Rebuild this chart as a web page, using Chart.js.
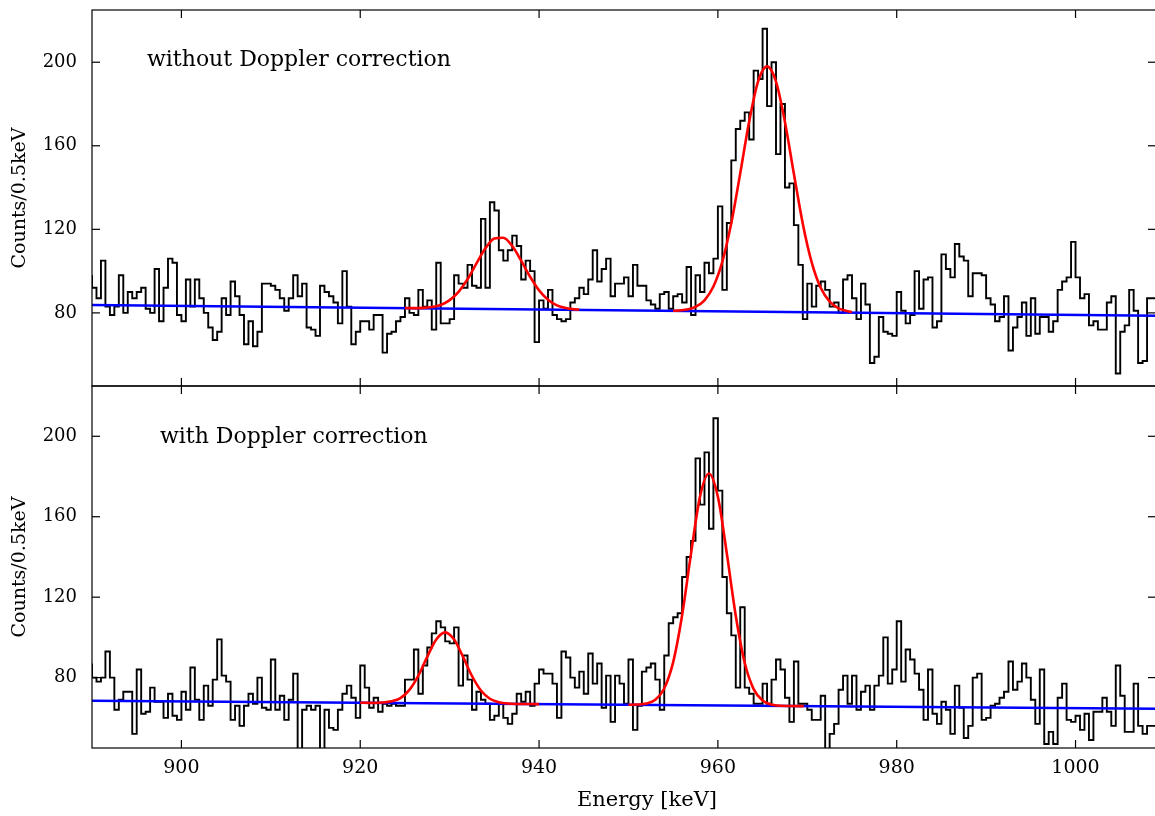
<!DOCTYPE html>
<html><head><meta charset="utf-8">
<script src="https://cdn.jsdelivr.net/npm/chart.js@4.4.0/dist/chart.umd.min.js"></script>
<style>
html,body{margin:0;padding:0;background:#fff;}
#wrap{position:relative;width:1155px;height:816px;overflow:hidden;}
canvas{position:absolute;left:0;}
</style></head><body>
<div id="wrap">
<canvas id="cTop" width="1160" height="397" style="top:0"></canvas>
<canvas id="cBot" width="1160" height="440" style="top:376px"></canvas>
</div>
<script>
/* ---- data ---- */
const BIN0 = 890, BIN = 0.5;           // keV, histogram bin start / width
const xTicks = [900, 920, 940, 960, 980, 1000];
const yTicks = [80, 120, 160, 200];

// without Doppler correction, counts per 0.5 keV
const countsRaw = [
  98,92,87,105,83,79,83,98,80,90,87,90,92,82,80,101,76,92,106,104,79,76,96,83,96,87,80,73,67,71,87,79,95,88,79,65,76,64,71,94,
  94,93,91,87,81,87,98,88,94,73,72,69,93,90,88,85,75,100,83,65,71,76,76,72,79,79,61,70,71,76,78,87,80,79,91,83,86,72,104,75,
  75,77,98,94,92,103,93,92,125,92,133,129,110,105,110,117,112,96,105,100,66,86,82,91,79,77,76,77,85,87,92,89,96,110,95,101,106,88,94,
  94,97,88,103,93,93,86,84,82,89,90,82,88,89,85,102,79,98,90,104,99,106,131,91,123,153,168,172,176,163,196,192,216,179,200,156,180,140,142,122,
  103,77,94,83,93,95,91,83,85,80,96,98,87,77,94,84,56,59,78,71,70,69,90,81,75,79,100,82,96,97,73,76,108,101,97,113,107,105,88,99,
  99,98,87,84,76,78,88,62,73,78,85,69,87,70,78,78,71,76,91,95,97,114,97,87,89,74,76,72,72,85,88,51,71,74,91,81,56,57,87
];
// with Doppler correction
const countsCorr = [
  87,80,78,80,93,80,64,69,73,73,52,84,62,63,75,68,68,60,72,61,59,73,64,85,69,59,76,66,79,99,81,78,59,66,56,66,72,67,80,65,
  64,89,64,71,59,69,82,40,64,66,64,66,40,64,55,54,64,72,76,70,60,86,75,65,70,63,67,66,67,66,66,79,79,94,72,86,95,102,108,
  105,98,97,105,76,91,79,64,73,69,67,59,61,67,60,57,62,72,68,73,66,77,84,82,82,77,60,93,90,80,75,83,72,92,77,87,65,81,58,81,
  77,67,89,54,66,83,85,87,79,64,91,107,110,112,130,140,148,189,166,192,154,209,173,130,112,101,75,115,75,72,67,67,77,67,79,89,84,70,58,88,
  67,67,64,59,59,71,40,52,57,74,81,67,81,64,73,76,64,76,81,100,77,84,108,78,94,89,82,74,59,84,62,57,68,64,52,76,65,50,56,80,
  82,59,60,66,67,70,73,88,74,78,87,80,69,57,84,47,53,47,70,77,59,58,61,54,62,49,63,63,70,63,56,86,71,53,53,77,56,52,56
];

// linear background (blue), endpoints
const bgRawE = [890, 1009], bgRawY = [83.8, 78.6];
const bgCorrE = [890, 1009], bgCorrY = [68.5, 64.5];

// fitted peaks (red), sampled off the curves
const fitRaw1E = [925,926,927,928,929,930,931,932,933,934,935,936,937,938,939,940,941,942,943,944,944.5];
const fitRaw1Y = [82.3,82.3,82.4,82.8,83.8,86.1,90.1,96.1,103.7,110.9,115.6,116.0,112.0,105.0,97.3,90.8,86.3,83.6,82.3,81.7,81.6];
const fitRaw2E = [955,955.5,956.5,957.5,958.5,959.5,960.5,961.5,962.5,963.5,964.5,965.5,966.5,967.5,968.5,969.5,970.5,971.5,972.5,973.5,974.5,975];
const fitRaw2Y = [81.0,81.1,81.6,82.9,86.0,92.6,104.5,123.0,146.8,171.6,190.8,198.0,190.7,171.4,146.6,122.6,104.1,92.0,85.4,82.2,80.8,80.4];
const fitCorr1E = [920,920.5,921.5,922.5,923.5,924.5,925.5,926.5,927.5,928.5,929.5,930.5,931.5,932.5,933.5,934.5,935.5,936.5,937.5,938.5,939.5,940];
const fitCorr1Y = [67.5,67.5,67.4,67.6,68.2,69.8,73.9,81.0,90.4,99.0,102.5,98.9,90.3,80.8,73.6,69.5,67.8,67.1,66.9,66.9,66.8,66.8];
const fitCorr2E = [950,951,952,953,954,955,956,957,958,959,960,961,962,963,964,965,966,967,968,969,969.6];
const fitCorr2Y = [66.5,66.6,67.1,69.0,74.6,87.7,111.0,141.8,170.0,181.5,169.9,141.7,110.8,87.4,74.3,68.6,66.6,66.0,65.9,65.8,65.8];

/* ---- helpers ---- */
const FONT = "'DejaVu Serif','Liberation Serif',serif";
Chart.defaults.font.family = FONT;
Chart.defaults.color = '#000';
Chart.defaults.animation = false;

const pts = (xs, ys) => xs.map((x, i) => ({x, y: ys[i]}));
function histPts(vals){
  const p = vals.map((v, i) => ({x: BIN0 + i*BIN, y: v}));
  p.push({x: BIN0 + vals.length*BIN, y: vals[vals.length-1]});
  return p;
}

// frame + inward ticks on all four sides, like the classic matplotlib style
const framePlugin = {
  id: 'frame',
  afterDatasetsDraw(chart){
    const {ctx, chartArea: a, scales: {x, y}} = chart;
    ctx.save();
    ctx.strokeStyle = '#000'; ctx.lineWidth = 1.2;
    const ln = (x1, y1, x2, y2) => { ctx.beginPath(); ctx.moveTo(x1, y1); ctx.lineTo(x2, y2); ctx.stroke(); };
    ctx.strokeRect(a.left, a.top, a.right - a.left, a.bottom - a.top);
    const L = 8;
    xTicks.forEach(v => { const p = x.getPixelForValue(v); ln(p, a.bottom, p, a.bottom - L); ln(p, a.top, p, a.top + L); });
    yTicks.forEach(v => { const p = y.getPixelForValue(v); ln(a.left, p, a.left + L, p); ln(a.right, p, a.right - L, p); });
    ctx.restore();
  }
};
// free text: panel note inside the axes, x label under the bottom panel
const notePlugin = {
  id: 'note',
  afterDraw(chart, args, o){
    const {ctx, chartArea: a} = chart;
    ctx.save();
    ctx.fillStyle = '#000'; ctx.textBaseline = 'middle';
    ctx.font = "22px " + FONT;
    ctx.fillText(o.text, a.left + o.dx, a.top + o.dy);
    if (o.xlabel) {
      ctx.font = "21px " + FONT; ctx.textAlign = 'center';
      ctx.fillText(o.xlabel, a.left + 555, a.bottom + 53);
    }
    ctx.restore();
  }
};

function panel(id, counts, bgE, bgY, fits, note, bottom){
  const sets = [];
  fits.forEach(f => sets.push({data: pts(f[0], f[1]), borderColor: '#ff0000', borderWidth: 2.6,
    pointRadius: 0, cubicInterpolationMode: 'monotone', order: 0}));
  sets.push({data: pts(bgE, bgY), borderColor: '#0000ff', borderWidth: 2.6, pointRadius: 0, order: 1});
  sets.push({data: histPts(counts), borderColor: '#000', borderWidth: 1.9, pointRadius: 0, stepped: 'after', order: 2});
  return new Chart(document.getElementById(id), {
    type: 'line',
    data: {datasets: sets},
    options: {
      responsive: false,
      layout: {padding: {top: 10, right: 4, bottom: bottom ? 0 : 11, left: 0}},
      plugins: {legend: {display: false}, tooltip: {enabled: false}, note: note},
      scales: {
        x: {type: 'linear', min: 890, max: 1009,
          afterBuildTicks: s => { s.ticks = xTicks.map(v => ({value: v})); },
          afterFit: s => { s.height = bottom ? 68 : 0; s.paddingLeft = 0; s.paddingRight = 0; },
          grid: {display: false, drawTicks: false}, border: {display: false},
          ticks: {display: bottom, padding: 9, font: {size: 19}, maxRotation: 0, callback: v => String(v)},
          title: {display: false}},
        y: {min: 45, max: 225,
          afterBuildTicks: s => { s.ticks = yTicks.map(v => ({value: v})); },
          afterFit: s => { s.width = 92; s.paddingTop = 0; s.paddingBottom = 0; },
          grid: {display: false, drawTicks: false}, border: {display: false},
          ticks: {padding: 15, font: {size: 18}},
          title: {display: true, text: 'Counts/0.5keV', font: {size: 19}, padding: {top: 9, bottom: 0}}}
      }
    },
    plugins: [framePlugin, notePlugin]
  });
}

panel('cTop', countsRaw, bgRawE, bgRawY, [[fitRaw1E, fitRaw1Y], [fitRaw2E, fitRaw2Y]],
  {text: 'without Doppler correction', dx: 55, dy: 50}, false);
panel('cBot', countsCorr, bgCorrE, bgCorrY, [[fitCorr1E, fitCorr1Y], [fitCorr2E, fitCorr2Y]],
  {text: 'with Doppler correction', dx: 68, dy: 51, xlabel: 'Energy [keV]'}, true);
</script>
</body></html>
